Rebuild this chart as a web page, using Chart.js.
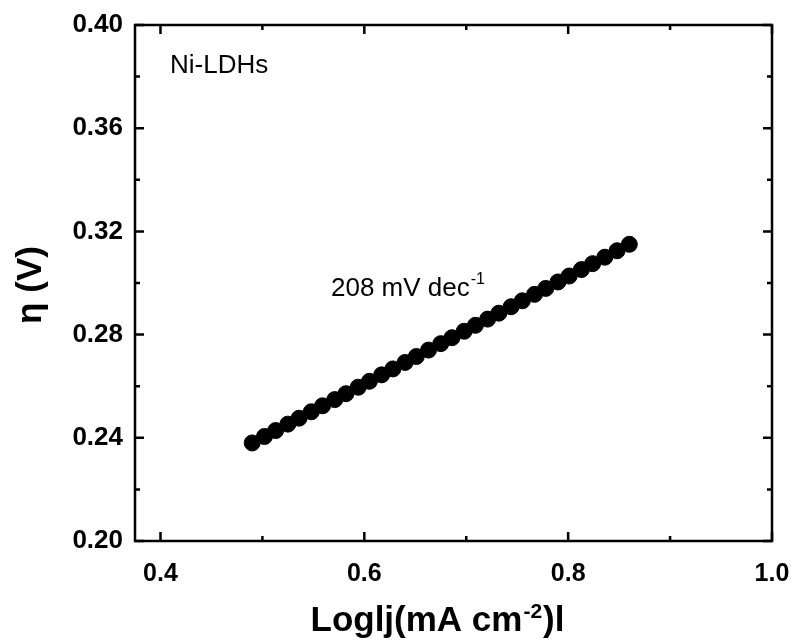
<!DOCTYPE html>
<html>
<head>
<meta charset="utf-8">
<script src="https://cdn.jsdelivr.net/npm/chart.js@4/dist/chart.umd.min.js"></script>
<style>
html,body{margin:0;padding:0;background:#fff;}
#wrap{width:795px;height:644px;position:relative;}
</style>
</head>
<body>
<div id="wrap"><canvas id="c" width="795" height="644"></canvas></div>
<script>
// ---- data ----
const logJ = [0.490,0.502,0.513,0.525,0.536,0.548,0.559,0.571,0.582,0.594,0.605,0.617,0.628,0.640,0.651,0.663,0.675,0.686,0.698,0.709,0.721,0.732,0.744,0.755,0.767,0.778,0.790,0.801,0.813,0.824,0.836,0.848,0.860];
const eta  = [0.2380,0.2405,0.2428,0.2453,0.2476,0.2501,0.2524,0.2548,0.2571,0.2596,0.2619,0.2644,0.2667,0.2692,0.2715,0.2740,0.2765,0.2788,0.2813,0.2836,0.2860,0.2883,0.2908,0.2931,0.2956,0.2979,0.3004,0.3027,0.3052,0.3075,0.3100,0.3125,0.3150];
const xMajorTicks = [0.4,0.6,0.8,1.0];
const xMinorTicks = [0.5,0.7,0.9];
const yMajorTicks = [0.20,0.24,0.28,0.32,0.36,0.40];
const yMinorTicks = [0.22,0.26,0.30,0.34,0.38];
const sampleLabel = "Ni-LDHs";
const slopeLabel = "208 mV dec";
const slopeSup = "-1";
const xTitleMain = "Loglj(mA cm";
const xTitleSup = "-2";
const xTitleEnd = ")l";
const yTitle = "η (V)";

const points = logJ.map((x,i)=>({x:x,y:eta[i]}));
const FONT = '"Liberation Sans", Arial, sans-serif';

const frame = {
  id:'frame',
  afterDraw(chart){
    const ctx = chart.ctx, a = chart.chartArea;
    const xs = chart.scales.x, ys = chart.scales.y;
    ctx.save();
    ctx.strokeStyle='#000'; ctx.lineWidth=2.5; ctx.lineCap='butt';
    ctx.strokeRect(a.left, a.top, a.right-a.left, a.bottom-a.top);
    const tick=(vals,len)=>{
      vals.forEach(v=>{
        const px=xs.getPixelForValue(v);
        ctx.beginPath();
        ctx.moveTo(px,a.bottom); ctx.lineTo(px,a.bottom-len);
        ctx.moveTo(px,a.top); ctx.lineTo(px,a.top+len);
        ctx.stroke();
      });
    };
    const tickY=(vals,len)=>{
      vals.forEach(v=>{
        const py=ys.getPixelForValue(v);
        ctx.beginPath();
        ctx.moveTo(a.left,py); ctx.lineTo(a.left+len,py);
        ctx.moveTo(a.right,py); ctx.lineTo(a.right-len,py);
        ctx.stroke();
      });
    };
    tick(xMajorTicks,9); tick(xMinorTicks,5);
    tickY(yMajorTicks,9); tickY(yMinorTicks,5);

    ctx.fillStyle='#000';
    ctx.textBaseline='alphabetic';
    ctx.textAlign='left';
    // sample label
    ctx.font='26px '+FONT;
    ctx.fillText(sampleLabel, 170, 73);
    // slope label
    ctx.fillText(slopeLabel, 331, 296);
    const w1 = ctx.measureText(slopeLabel).width;
    ctx.font='16px '+FONT;
    ctx.fillText(slopeSup, 331+w1+1, 284);

    // x title
    ctx.font='bold 35px '+FONT;
    const wa = ctx.measureText(xTitleMain).width;
    ctx.font='bold 21px '+FONT;
    const wb = ctx.measureText(xTitleSup).width;
    ctx.font='bold 35px '+FONT;
    const wc = ctx.measureText(xTitleEnd).width;
    const total = wa+wb+wc+2;
    let sx = 437.5 - total/2;
    ctx.fillText(xTitleMain, sx, 631);
    ctx.font='bold 21px '+FONT;
    ctx.fillText(xTitleSup, sx+wa+1, 618);
    ctx.font='bold 35px '+FONT;
    ctx.fillText(xTitleEnd, sx+wa+wb+2, 631);

    // y title
    ctx.save();
    ctx.translate(41, 285);
    ctx.rotate(-Math.PI/2);
    ctx.textAlign='center';
    ctx.font='bold 35px '+FONT;
    ctx.fillText(yTitle, 0, 0);
    ctx.restore();
    ctx.restore();
  }
};

new Chart(document.getElementById('c'), {
  type:'scatter',
  data:{datasets:[{
    data:points,
    backgroundColor:'#000',
    borderColor:'#000',
    borderWidth:1,
    pointRadius:8,
    pointHoverRadius:8,
    showLine:false
  }]},
  options:{
    responsive:false,
    animation:false,
    events:[],
    layout:{padding:{top:25,right:23,left:0,bottom:0}},
    plugins:{legend:{display:false},tooltip:{enabled:false}},
    scales:{
      x:{
        type:'linear', min:0.375, max:1.0,
        afterBuildTicks(s){ s.ticks = xMajorTicks.map(v=>({value:v})); },
        afterFit(s){ s.height = 103; s.paddingLeft = 0; s.paddingRight = 0; },
        grid:{display:false, drawTicks:false},
        border:{display:false},
        ticks:{padding:18, color:'#000', font:{family:FONT, size:25, weight:'bold'},
          callback:v=>Number(v).toFixed(1), maxRotation:0}
      },
      y:{
        type:'linear', min:0.2, max:0.4,
        afterBuildTicks(s){ s.ticks = yMajorTicks.map(v=>({value:v})); },
        afterFit(s){ s.width = 135; s.paddingTop = 0; s.paddingBottom = 0; },
        grid:{display:false, drawTicks:false},
        border:{display:false},
        ticks:{padding:12, color:'#000', font:{family:FONT, size:26, weight:'bold'},
          callback:v=>Number(v).toFixed(2)}
      }
    }
  },
  plugins:[frame]
});
</script>
</body>
</html>
